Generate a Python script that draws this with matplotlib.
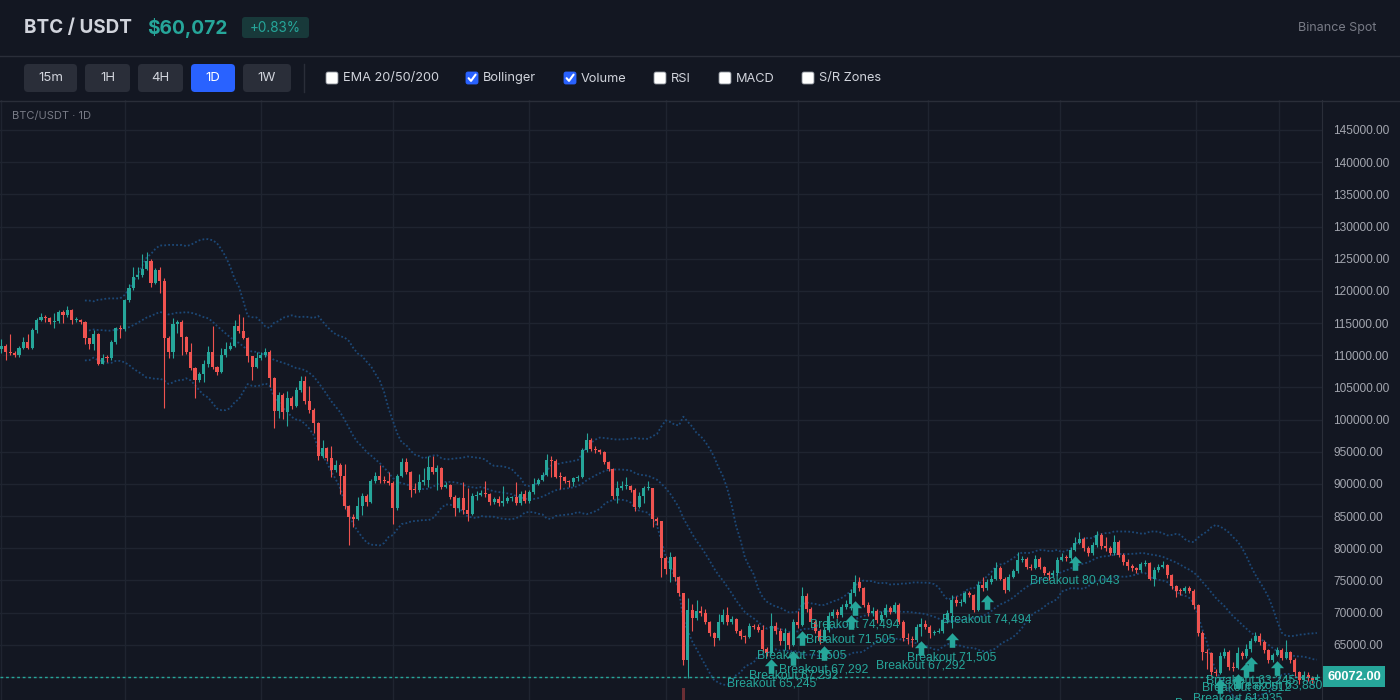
import numpy as np
import pandas as pd
import matplotlib
matplotlib.use("Agg")
import matplotlib.pyplot as plt
from matplotlib.patches import FancyBboxPatch
from matplotlib.path import Path
from matplotlib import transforms

# ---------------------------------------------------------------
# Data: daily BTC/USDT candles, prices in thousand USDT
# open of each candle = previous close
# ---------------------------------------------------------------
first_open_k = 111.0

close_k = [
    111.5, 110.5, 110.4, 110.0, 111.1, 112.0, 111.2, 113.9, 115.5, 116.0,   # 0
    115.8, 115.1, 115.3, 116.7, 116.2, 117.0, 115.5, 115.5, 115.1, 112.6,   # 10
    111.8, 113.3, 108.7, 109.6, 109.5, 112.1, 114.2, 114.0, 118.6, 120.4,   # 20
    122.2, 122.5, 123.4, 124.7, 121.3, 123.2, 121.6, 112.6, 110.5, 114.9,   # 30
    115.2, 112.9, 110.5, 108.0, 106.1, 107.1, 108.6, 110.5, 108.2, 107.4,   # 40
    110.0, 111.0, 111.5, 114.5, 113.8, 112.7, 109.9, 108.1, 109.6, 110.1,   # 50
    110.5, 106.4, 101.3, 103.8, 101.2, 103.4, 102.1, 104.6, 106.0, 102.9,   # 60
    101.5, 99.5, 94.3, 95.6, 94.0, 92.1, 92.9, 91.3, 86.5, 84.9,            # 70
    84.6, 86.6, 88.2, 87.2, 90.4, 91.2, 90.6, 90.5, 90.2, 86.2,             # 80
    91.2, 93.4, 91.9, 89.1, 89.0, 90.3, 90.6, 92.6, 91.9, 92.5,             # 90
    89.5, 89.8, 88.0, 86.3, 87.8, 85.9, 85.3, 88.1, 88.3, 88.6,             # 100
    88.4, 87.2, 87.7, 87.0, 87.4, 87.8, 88.0, 87.0, 88.4, 87.3,             # 110
    88.7, 90.0, 90.6, 91.4, 93.7, 93.5, 91.1, 91.0, 90.5, 90.3,             # 120
    90.9, 91.1, 95.3, 96.8, 95.4, 95.3, 94.9, 93.4, 92.3, 88.1,             # 130
    89.4, 89.6, 89.7, 89.1, 86.4, 88.2, 89.3, 89.4, 84.5, 84.2,             # 140
    78.5, 76.8, 78.7, 75.6, 73.0, 62.6, 70.4, 69.1, 70.2, 69.9,             # 150
    68.5, 66.9, 66.0, 68.6, 69.6, 68.5, 69.0, 67.2, 66.3, 66.2,             # 160
    67.9, 67.8, 67.3, 64.4, 63.8, 67.9, 67.2, 65.6, 66.8, 64.9,             # 170
    68.6, 68.1, 72.6, 70.6, 68.5, 67.2, 65.6, 67.3, 69.5, 70.1,             # 180
    69.6, 70.8, 71.3, 73.0, 74.8, 73.8, 71.2, 69.9, 70.3, 68.9,             # 190
    69.6, 70.7, 70.1, 71.2, 68.6, 66.0, 65.9, 65.7, 67.8, 68.3,             # 200
    67.8, 66.8, 67.0, 67.2, 68.9, 70.0, 72.0, 71.5, 71.7, 73.0,             # 210
    72.7, 70.4, 74.3, 73.8, 74.8, 75.2, 76.9, 75.3, 73.5, 75.6,             # 220
    76.4, 78.2, 78.3, 77.1, 77.0, 78.4, 77.1, 76.1, 75.8, 76.2,             # 230
    78.2, 78.7, 78.5, 79.7, 80.8, 81.5, 80.0, 79.2, 80.5, 82.1,             # 240
    80.3, 80.0, 79.3, 81.0, 79.0, 77.9, 77.2, 76.9, 76.6, 77.5,             # 250
    77.7, 75.3, 76.7, 77.1, 77.4, 75.8, 74.1, 73.4, 73.3, 73.9,             # 260
    73.4, 71.2, 66.8, 63.9, 63.7, 60.8, 60.6, 63.3, 63.9, 61.6,             # 270
    61.4, 63.7, 63.2, 64.4, 65.6, 66.3, 65.4, 64.2, 62.6, 63.4,             # 280
    64.2, 63.0, 63.9, 62.6, 60.8, 59.5, 60.3, 59.8, 59.577, 60.072,         # 290
]

high_k = [
    112.5, 111.8, 113.3, 110.6, 111.5, 112.8, 113.3, 114.2, 115.8, 116.6,
    116.3, 116.0, 116.5, 117.0, 117.0, 117.7, 117.2, 116.0, 115.6, 115.3,
    112.6, 113.9, 113.4, 110.2, 110.0, 112.4, 114.4, 114.7, 118.8, 121.0,
    123.7, 123.7, 125.7, 126.1, 124.9, 123.5, 123.7, 122.0, 113.0, 115.8,
    115.5, 115.4, 113.0, 111.9, 108.2, 107.4, 109.2, 111.5, 114.6, 108.4,
    111.2, 112.1, 112.0, 115.5, 116.4, 116.0, 112.9, 109.6, 110.5, 110.5,
    111.2, 110.8, 106.6, 104.3, 104.2, 104.5, 103.6, 105.0, 106.7, 106.7,
    105.2, 101.8, 99.6, 96.8, 95.8, 95.9, 93.7, 93.2, 93.1, 86.7,
    85.4, 88.0, 88.6, 88.5, 90.7, 91.9, 93.0, 91.3, 91.9, 90.4,
    91.6, 94.0, 94.0, 92.0, 90.1, 91.6, 92.4, 94.4, 94.3, 92.9,
    92.6, 90.3, 90.0, 88.3, 88.0, 90.3, 89.4, 88.6, 88.9, 89.1,
    90.4, 88.6, 87.9, 88.1, 89.6, 88.1, 88.2, 90.3, 88.9, 89.1,
    89.0, 90.9, 90.9, 91.8, 94.6, 94.3, 93.9, 91.8, 91.3, 90.6,
    91.1, 91.4, 95.6, 97.9, 97.1, 95.9, 95.5, 95.1, 93.6, 92.5,
    90.5, 90.4, 91.0, 89.9, 89.3, 88.7, 89.6, 90.4, 89.4, 84.8,
    84.3, 78.8, 79.4, 78.8, 75.7, 73.1, 72.2, 71.3, 71.9, 71.0,
    70.5, 68.7, 67.0, 69.8, 70.6, 70.9, 69.4, 69.2, 67.5, 66.6,
    68.4, 68.2, 68.3, 68.0, 64.6, 69.9, 68.5, 67.6, 67.6, 67.0,
    69.0, 70.2, 74.0, 73.1, 70.9, 68.9, 67.5, 67.8, 70.1, 70.6,
    70.6, 71.3, 71.9, 73.7, 75.8, 75.5, 74.0, 71.6, 70.8, 70.6,
    70.2, 71.3, 71.1, 71.6, 71.5, 68.9, 66.8, 66.3, 68.2, 69.1,
    68.9, 68.0, 67.3, 67.6, 69.6, 70.4, 72.7, 72.6, 72.1, 73.4,
    73.3, 72.9, 74.9, 75.6, 75.3, 75.9, 77.8, 77.2, 75.6, 76.0,
    76.8, 79.4, 78.8, 78.6, 77.6, 79.0, 78.7, 77.3, 76.4, 76.6,
    78.6, 79.3, 79.0, 80.2, 81.7, 82.5, 81.8, 80.4, 80.9, 82.7,
    82.3, 81.8, 80.3, 82.1, 81.3, 79.2, 78.3, 77.6, 77.1, 77.8,
    78.2, 77.9, 77.1, 77.6, 78.0, 77.6, 76.0, 74.3, 73.8, 74.2,
    74.2, 73.6, 71.4, 67.1, 64.3, 63.9, 61.3, 63.9, 64.5, 64.2,
    62.3, 64.6, 64.1, 65.2, 66.0, 67.0, 66.8, 65.7, 64.4, 63.8,
    64.6, 64.5, 65.7, 64.0, 62.9, 61.0, 60.9, 60.7, 60.2, 60.4,
]

low_k = [
    110.4, 109.2, 110.0, 109.7, 109.8, 110.9, 110.9, 111.0, 113.4, 115.3,
    115.2, 114.9, 114.3, 115.0, 115.0, 116.0, 114.9, 115.1, 114.8, 111.7,
    111.0, 110.8, 108.5, 109.0, 108.9, 109.2, 111.7, 112.6, 113.8, 118.3,
    120.2, 121.9, 122.2, 123.2, 120.6, 121.0, 119.6, 101.8, 109.5, 109.5,
    113.5, 110.0, 110.2, 107.7, 103.3, 105.8, 105.9, 108.2, 107.8, 107.0,
    107.3, 109.8, 110.8, 111.3, 113.5, 112.5, 108.9, 106.2, 108.0, 109.3,
    109.8, 105.1, 98.7, 100.3, 100.1, 99.0, 101.6, 101.9, 104.3, 102.4,
    101.0, 97.9, 93.7, 94.1, 93.6, 91.0, 91.8, 88.5, 86.1, 80.5,
    83.3, 84.4, 85.1, 86.6, 87.1, 90.1, 90.2, 90.2, 89.9, 83.7,
    86.0, 91.0, 91.5, 87.9, 88.6, 88.8, 89.9, 89.5, 91.5, 89.1,
    89.2, 89.4, 87.6, 85.0, 85.6, 85.4, 84.3, 85.1, 87.5, 88.2,
    87.9, 86.8, 86.9, 86.5, 86.5, 87.0, 87.3, 86.7, 86.8, 87.0,
    87.0, 88.4, 89.8, 90.4, 91.3, 91.1, 90.9, 89.2, 90.1, 89.5,
    89.7, 90.5, 90.9, 95.0, 95.1, 94.8, 94.6, 93.1, 92.0, 87.6,
    87.1, 89.0, 89.2, 88.8, 85.8, 86.2, 87.1, 89.0, 83.3, 83.6,
    75.5, 76.0, 74.7, 74.9, 72.6, 61.9, 59.8, 67.1, 68.8, 69.4,
    68.2, 66.4, 64.8, 65.8, 68.3, 68.1, 68.2, 66.8, 65.9, 65.3,
    66.0, 67.5, 67.0, 63.9, 63.3, 63.5, 66.7, 65.0, 64.2, 64.4,
    64.8, 67.6, 67.9, 70.1, 68.0, 66.8, 65.2, 65.6, 67.0, 69.2,
    69.2, 69.3, 70.5, 70.4, 72.6, 73.4, 70.8, 69.5, 69.4, 68.4,
    68.6, 69.3, 69.8, 69.9, 68.2, 65.6, 65.2, 64.7, 65.4, 66.3,
    67.4, 66.0, 66.5, 66.8, 66.9, 68.4, 67.6, 71.1, 71.0, 71.5,
    72.4, 70.1, 70.2, 73.4, 73.5, 74.4, 75.0, 75.0, 73.1, 73.3,
    75.4, 76.1, 77.8, 76.8, 76.7, 76.8, 76.8, 75.8, 75.1, 75.6,
    75.9, 78.0, 78.1, 78.2, 79.5, 80.6, 79.6, 78.8, 79.0, 80.2,
    79.9, 79.6, 78.9, 79.0, 78.6, 77.4, 76.7, 76.5, 76.2, 76.3,
    77.2, 75.0, 74.1, 76.3, 77.0, 75.4, 73.7, 72.4, 72.8, 73.0,
    73.0, 70.5, 66.4, 62.7, 61.2, 60.2, 60.1, 60.4, 63.0, 61.1,
    60.9, 61.2, 62.8, 62.9, 63.9, 65.4, 65.0, 63.8, 62.2, 62.3,
    63.2, 62.6, 62.8, 62.1, 60.2, 58.9, 59.4, 59.4, 59.0, 59.4,
]

# only the capitulation-day volume bar reaches into the visible area
volume_idx = [155]
volume_k = [61.0]

# breakout markers (candle index, level)
breakout_idx = [175, 180, 182, 187, 193, 194, 209, 216, 224, 244,
                277, 281, 283, 284, 290]
breakout_lvl = ['65,245', '67,292', '71,505', '67,292', '71,505', '74,494',
                '67,292', '71,505', '74,494', '80,043',
                '60,852', '61,935', '62,512', '63,245', '63,880']

timeframes = ['15m', '1H', '4H', '1D', '1W']
active_tf = '1D'
indicators = ['EMA 20/50/200', 'Bollinger', 'Volume', 'RSI', 'MACD', 'S/R Zones']
indicator_on = [False, True, True, False, False, False]

price_ticks = list(range(60000, 150000, 5000))
month_ticks = [0, 28, 59, 89, 120, 151, 181, 210.5, 240.5, 271.5, 290.5]

# ---------------------------------------------------------------
# Style
# ---------------------------------------------------------------
BG = '#131722'
UP = '#26a69a'
DOWN = '#ef5350'
GRID = '#1f2430'
LINE = '#2a2e39'
TEXT = '#d1d4dc'
MUTED = '#787b86'
AXIS_TXT = '#a3a6af'
BB = '#1c4877'
BLUE = '#2962ff'
UI_FONT = ['Inter', 'DejaVu Sans']
plt.rcParams['font.family'] = ['Liberation Sans', 'DejaVu Sans']

W, H = 1400, 700
fig = plt.figure(figsize=(14, 7), dpi=100, facecolor=BG)

close = np.array(close_k) * 1000
high = np.array(high_k) * 1000
low = np.array(low_k) * 1000
opn = np.concatenate([[first_open_k * 1000], close[:-1]])
high = np.maximum(high, np.maximum(opn, close))
low = np.minimum(low, np.minimum(opn, close))
n = len(close)
idx = np.arange(n)
up = close >= opn
last = close[-1]
chg = (close[-1] / close[-2] - 1) * 100

# ---------------------------------------------------------------
# Chart pane (pixels x 0..1322, y 100..700)
# ---------------------------------------------------------------
ax = fig.add_axes([0, 0, 1322 / W, 600 / H])
ax.set_facecolor(BG)
ax.set_xlim(-0.3, 300.16)
ax.set_ylim(56422, 149662)

colors = np.where(up, UP, DOWN)
ax.vlines(idx, low, high, colors=colors, lw=0.8, zorder=3)
body_lo = np.minimum(opn, close)
body_h = np.maximum(np.abs(close - opn), 160)
ax.bar(idx, body_h, bottom=body_lo, width=0.72, color=colors, linewidth=0, zorder=4)

# Bollinger bands (20, 2)
s = pd.Series(close)
mid = s.rolling(20).mean()
sd = s.rolling(20).std(ddof=0)
for band in (mid + 2 * sd, mid, mid - 2 * sd):
    ax.plot(idx, band, color=BB, lw=1.3, ls=(0, (1, 1.2)), zorder=2)

# last price line + tag
ax.axhline(last, color=UP, lw=1, ls=(0, (2, 2)), zorder=5)
blend = transforms.blended_transform_factory(ax.transAxes, ax.transData)
ax.annotate(f'{last:.2f}', xy=(1, last), xycoords=blend, xytext=(5, 0),
            textcoords='offset pixels', ha='left', va='center', color='white',
            fontsize=9.3, fontweight='bold', annotation_clip=False, zorder=10,
            bbox=dict(boxstyle='square,pad=0.32', fc=UP, ec='none'))

# axes styling
ax.yaxis.tick_right()
ax.set_yticks(price_ticks)
ax.yaxis.set_major_formatter(lambda v, p: f'{v:.2f}')
ax.tick_params(axis='y', length=0, pad=8, labelsize=8.6, labelcolor=AXIS_TXT)
ax.set_xticks(month_ticks)
ax.tick_params(axis='x', length=0, labelbottom=False)
ax.grid(True, color=GRID, lw=1)
ax.set_axisbelow(True)
for sp in ['top', 'left', 'bottom']:
    ax.spines[sp].set_visible(False)
ax.spines['right'].set_color(LINE)

# breakout markers: fat up-arrow under the candle low, label below it
arrow = Path([(-0.45, 0.02), (0, 0.5), (0.45, 0.02), (0.19, 0.02),
              (0.19, -0.5), (-0.19, -0.5), (-0.19, 0.02), (-0.45, 0.02)],
             [Path.MOVETO] + [Path.LINETO] * 6 + [Path.CLOSEPOLY])
arrow_tr = transforms.offset_copy(ax.transData, fig=fig, x=0, y=-12, units='dots')
for i, lvl in zip(breakout_idx, breakout_lvl):
    ax.plot(i, low[i], marker=arrow, ms=10.5, color=UP, mec='none',
            transform=arrow_tr, zorder=6, clip_on=False)
    ax.annotate(f'Breakout {lvl}', xy=(i, low[i]), xytext=(0, -29),
                textcoords='offset pixels', ha='center', va='center',
                fontsize=8.7, color=UP, zorder=6)

# volume overlay (bottom of the pane, mostly below the crop)
axv = fig.add_axes(ax.get_position().bounds, sharex=ax)
axv.set_ylim(50, 600)
axv.axis('off')
axv.patch.set_visible(False)
axv.bar(volume_idx, volume_k, width=0.7, color=DOWN, alpha=0.4, linewidth=0)

# ---------------------------------------------------------------
# Header / toolbar (pixel coordinates)
# ---------------------------------------------------------------
ui = fig.add_axes([0, 0, 1, 1], zorder=5)
ui.set_xlim(0, W)
ui.set_ylim(H, 0)
ui.axis('off')
ui.patch.set_visible(False)

ui.text(24, 28, 'BTC / USDT', fontsize=13.6, fontweight='bold', color=TEXT,
        va='center', family=UI_FONT)
ui.text(147, 28, f'${last:,.0f}', fontsize=13.8, fontweight='bold', color=UP,
        va='center', family=UI_FONT)
ui.add_patch(FancyBboxPatch((242, 17), 67, 21, boxstyle='round,pad=0,rounding_size=3',
                            fc='#18393a', ec='none'))
ui.text(275.5, 28, f'{chg:+.2f}%', fontsize=9.8, color=UP, ha='center', va='center',
        family=UI_FONT)
ui.text(1376, 28, 'Binance Spot', fontsize=9, color=MUTED, ha='right', va='center',
        family=UI_FONT)
ui.plot([0, W], [55.5, 55.5], color=LINE, lw=1)

btn_x = [24, 85, 138, 191, 243]
btn_w = [53, 45, 45, 44, 48]
for tf, bx, bw in zip(timeframes, btn_x, btn_w):
    on = tf == active_tf
    ui.add_patch(FancyBboxPatch((bx, 64), bw, 28, boxstyle='round,pad=0,rounding_size=4',
                                fc=BLUE if on else LINE, ec='none'))
    ui.text(bx + bw / 2, 78, tf, fontsize=9.5, color='white' if on else TEXT,
            ha='center', va='center', family=UI_FONT)

ui.plot([304, 304], [64, 92], color=LINE, lw=1)

chk_x = [326, 466, 564, 654, 719, 802]
for label, cx, on in zip(indicators, chk_x, indicator_on):
    ui.add_patch(FancyBboxPatch((cx, 72), 12, 12, boxstyle='round,pad=0,rounding_size=2',
                                fc=BLUE if on else 'white',
                                ec=BLUE if on else '#8a8f98', lw=0.6))
    if on:
        ui.plot([cx + 2.6, cx + 5, cx + 9.6], [78.2, 80.9, 74.6], color='white',
                lw=1.5, solid_capstyle='round', solid_joinstyle='round')
    ui.text(cx + 17, 78.5, label, fontsize=9.2, color=TEXT, va='center', family=UI_FONT)

ui.plot([0, W], [100.5, 100.5], color=LINE, lw=1)
ui.text(12, 116, 'BTC/USDT \u00b7 1D', fontsize=8, color=MUTED, va='center', family=UI_FONT)

fig.savefig('out.png', dpi=100, facecolor=BG)
